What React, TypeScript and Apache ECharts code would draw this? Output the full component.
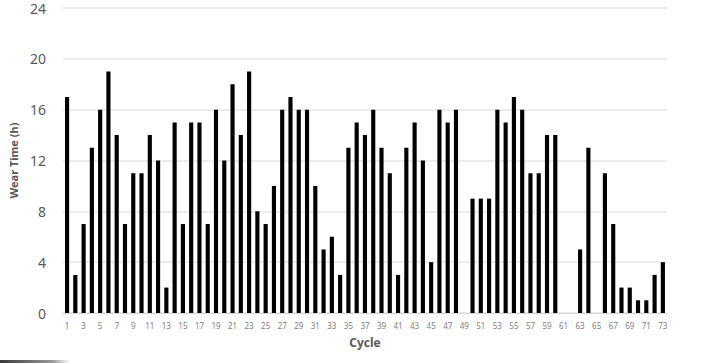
import React, { useEffect, useRef } from "react";
import * as echarts from "echarts";

const cycles: string[] = Array.from({ length: 73 }, (_, i) => String(i + 1));
const wearTime: (number | null)[] = [
  17, 3, 7, 13, 16, 19, 14, 7, 11, 11,
  14, 12, 2, 15, 7, 15, 15, 7, 16, 12,
  18, 14, 19, 8, 7, 10, 16, 17, 16, 16,
  10, 5, 6, 3, 13, 15, 14, 16, 13, 11,
  3, 13, 15, 12, 4, 16, 15, 16, 0, 9,
  9, 9, 16, 15, 17, 16, 11, 11, 14, 14,
  0, 0, 5, 13, 0, 11, 7, 2, 2, 1,
  1, 3, 4,
];
const yTicks = { min: 0, max: 24, interval: 4 };

export default function App() {
  const ref = useRef<HTMLDivElement>(null);
  useEffect(() => {
    if (!ref.current) return;
    const chart = echarts.init(ref.current, undefined, { renderer: "svg" });
    const font = "Noto Sans, sans-serif";
    chart.setOption({
      animation: false,
      backgroundColor: "#ffffff",
      grid: { left: 60, right: 43, top: 8, bottom: 50, containLabel: false },
      xAxis: {
        type: "category",
        data: cycles,
        name: "Cycle",
        nameLocation: "middle",
        nameGap: 23,
        nameTextStyle: { fontFamily: font, fontSize: 12, fontWeight: "bold", color: "#595959" },
        axisTick: { show: false },
        axisLine: { lineStyle: { color: "#d9d9d9", width: 1 } },
        axisLabel: { interval: 1, fontSize: 8, color: "#7f7f7f", fontFamily: font, margin: 8 },
      },
      yAxis: {
        type: "value",
        min: yTicks.min,
        max: yTicks.max,
        interval: yTicks.interval,
        name: "Wear Time (h)",
        nameLocation: "middle",
        nameGap: 33,
        nameTextStyle: { fontFamily: font, fontSize: 11, fontWeight: "bold", color: "#595959" },
        axisLine: { show: false },
        axisTick: { show: false },
        axisLabel: { fontSize: 14, color: "#595959", fontFamily: font, margin: 17 },
        splitLine: { lineStyle: { color: "#e6e6e6", width: 1.5 } },
      },
      series: [
        {
          type: "bar",
          data: wearTime,
          barWidth: "50%",
          itemStyle: { color: "#000000" },
        },
      ],
      graphic: [
        {
          type: "rect",
          shape: { x: 0, y: 360, width: 70, height: 3 },
          style: {
            fill: new echarts.graphic.LinearGradient(0, 0, 1, 0, [
              { offset: 0, color: "#3a3a3a" },
              { offset: 0.75, color: "#999999" },
              { offset: 1, color: "#ffffff" },
            ]),
          },
          silent: true,
        },
      ],
    });
    return () => chart.dispose();
  }, []);
  return (
    <div
      ref={ref}
      style={{ position: "absolute", left: 0, top: 0, width: 710, height: 363 }}
    />
  );
}
